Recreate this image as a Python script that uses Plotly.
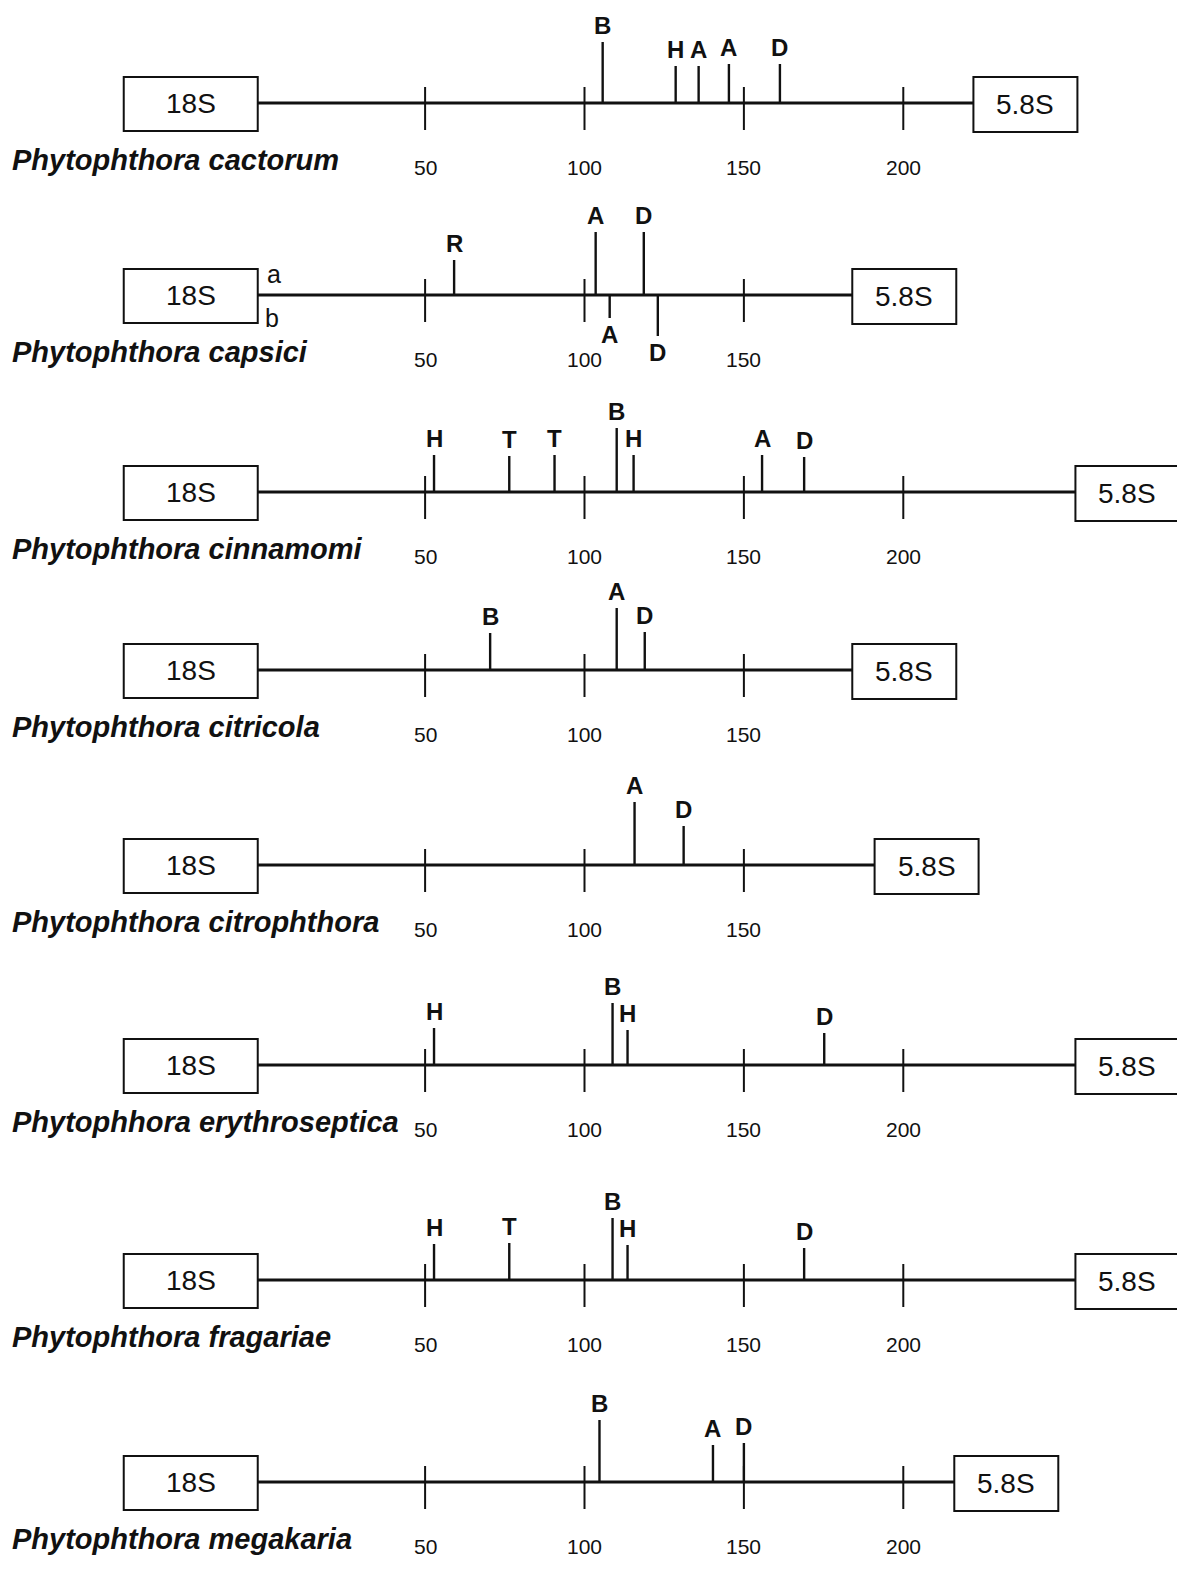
import plotly.graph_objects as go

# ---------------- data ----------------
species = [
    "Phytophthora cactorum",
    "Phytophthora capsici",
    "Phytophthora cinnamomi",
    "Phytophthora citricola",
    "Phytophthora citrophthora",
    "Phytophhora erythroseptica",
    "Phytophthora fragariae",
    "Phytophthora megakaria",
]
its1_length = [222, 184, 254, 184, 191, 254, 254, 216]

cactorum_enz = ["B", "H", "A", "A", "D"]
cactorum_pos = [105.7, 128.6, 135.8, 145.3, 161.3]
capsici_enz = ["R", "A", "D", "A", "D"]
capsici_pos = [59.1, 103.5, 118.6, 107.9, 123]
capsici_strand = ["a", "a", "a", "b", "b"]
cinnamomi_enz = ["H", "T", "T", "B", "H", "A", "D"]
cinnamomi_pos = [52.8, 76.4, 90.6, 110.1, 115.4, 155.7, 168.9]
citricola_enz = ["B", "A", "D"]
citricola_pos = [70.4, 110.1, 118.9]
citrophthora_enz = ["A", "D"]
citrophthora_pos = [115.7, 131.1]
erythroseptica_enz = ["H", "B", "H", "D"]
erythroseptica_pos = [52.8, 108.8, 113.5, 175.2]
fragariae_enz = ["H", "T", "B", "H", "D"]
fragariae_pos = [52.8, 76.4, 108.8, 113.5, 168.9]
megakaria_enz = ["B", "A", "D"]
megakaria_pos = [104.7, 140.3, 150]

site_enzymes = [cactorum_enz, capsici_enz, cinnamomi_enz, citricola_enz,
                citrophthora_enz, erythroseptica_enz, fragariae_enz, megakaria_enz]
site_positions = [cactorum_pos, capsici_pos, cinnamomi_pos, citricola_pos,
                  citrophthora_pos, erythroseptica_pos, fragariae_pos, megakaria_pos]
site_strands = [None, capsici_strand, None, None, None, None, None, None]
scale_ticks = [50, 100, 150, 200]

# ---------------- layout (pixels) ----------------
W, H = 1177, 1572
X0, X1 = -83.35, 285.86
PPU = W / (X1 - X0)          # pixels per base pair


def px(n):
    return n / PPU


baseline_y = [103, 295, 492, 670, 865, 1065, 1280, 1482]
stem_len = [
    [61, 37, 37, 39, 39],
    [35, 63, 63, 23, 41],
    [37, 36, 37, 64, 37, 37, 35],
    [37, 62, 38],
    [63, 39],
    [37, 62, 35, 32],
    [36, 37, 62, 35, 32],
    [62, 37, 39],
]
BOX18_RIGHT = -2.5
BOX18_W = 134
BOX58_W = 104
BOX_H = 54

BLACK = "#111111"
FONT = "Liberation Sans, Arial, Helvetica, sans-serif"

fig = go.Figure()
shapes = []
annotations = []

line_x, line_y = [], []
tick_x, tick_y = [], []
stem_x, stem_y = [], []

for i, name in enumerate(species):
    y0 = baseline_y[i]
    L = its1_length[i]
    # main line
    line_x += [BOX18_RIGHT, L, None]
    line_y += [y0, y0, None]
    # boxes
    shapes.append(dict(type="rect", xref="x", yref="y",
                       x0=BOX18_RIGHT - px(BOX18_W), x1=BOX18_RIGHT,
                       y0=y0 - BOX_H / 2 + 1, y1=y0 + BOX_H / 2 + 1,
                       line=dict(color=BLACK, width=2), fillcolor="white"))
    shapes.append(dict(type="rect", xref="x", yref="y",
                       x0=L, x1=L + px(BOX58_W),
                       y0=y0 - BOX_H / 2 + 1, y1=y0 + BOX_H / 2 + 2,
                       line=dict(color=BLACK, width=2), fillcolor="white"))
    annotations.append(dict(x=BOX18_RIGHT - px(BOX18_W / 2), y=y0, text="18S",
                            showarrow=False, xanchor="center", yanchor="middle",
                            font=dict(family=FONT, size=28, color=BLACK)))
    annotations.append(dict(x=L + px(BOX58_W / 2), y=y0 + 1, text="5.8S",
                            showarrow=False, xanchor="center", yanchor="middle",
                            font=dict(family=FONT, size=28, color=BLACK)))
    # scale ticks
    for t in scale_ticks:
        if t < L:
            tick_x += [t, t, None]
            tick_y += [y0 - 16, y0 + 27, None]
            annotations.append(dict(x=t, y=y0 + 64, text=str(t), showarrow=False,
                                    xanchor="center", yanchor="middle",
                                    font=dict(family=FONT, size=21, color=BLACK)))
    # species name
    annotations.append(dict(x=X0 + px(10), y=y0 + 57, text="<b><i>" + name + "</i></b>",
                            showarrow=False, xanchor="left", yanchor="middle",
                            font=dict(family=FONT, size=29, color=BLACK)))
    # restriction sites
    strands = site_strands[i]
    for j, (enz, pos) in enumerate(zip(site_enzymes[i], site_positions[i])):
        down = strands is not None and strands[j] == "b"
        h = stem_len[i][j]
        if down:
            tip = y0 + h
            ly = tip + 16
        else:
            tip = y0 - h
            ly = tip - 17
        stem_x += [pos, pos, None]
        stem_y += [y0, tip, None]
        annotations.append(dict(x=pos, y=ly, text="<b>" + enz + "</b>", showarrow=False,
                                xanchor="center", yanchor="middle",
                                font=dict(family=FONT, size=24, color=BLACK)))
    if strands is not None:
        annotations.append(dict(x=BOX18_RIGHT + px(16), y=y0 - 21, text="a",
                                showarrow=False, xanchor="center", yanchor="middle",
                                font=dict(family=FONT, size=25, color=BLACK)))
        annotations.append(dict(x=BOX18_RIGHT + px(14), y=y0 + 23, text="b",
                                showarrow=False, xanchor="center", yanchor="middle",
                                font=dict(family=FONT, size=25, color=BLACK)))

fig.add_trace(go.Scatter(x=line_x, y=line_y, mode="lines",
                         line=dict(color=BLACK, width=3), hoverinfo="skip"))
fig.add_trace(go.Scatter(x=tick_x, y=tick_y, mode="lines",
                         line=dict(color=BLACK, width=2), hoverinfo="skip"))
fig.add_trace(go.Scatter(x=stem_x, y=stem_y, mode="lines",
                         line=dict(color=BLACK, width=2.4), hoverinfo="skip"))

fig.update_layout(
    width=W, height=H,
    margin=dict(l=0, r=0, t=0, b=0),
    paper_bgcolor="white", plot_bgcolor="white",
    showlegend=False,
    shapes=shapes, annotations=annotations,
    xaxis=dict(range=[X0, X1], visible=False, fixedrange=True),
    yaxis=dict(range=[H, 0], visible=False, fixedrange=True),
)

fig.write_html("out.html", config={"displayModeBar": False},
               post_script="document.body.style.margin='0';"
                           "document.body.style.overflow='hidden';")
